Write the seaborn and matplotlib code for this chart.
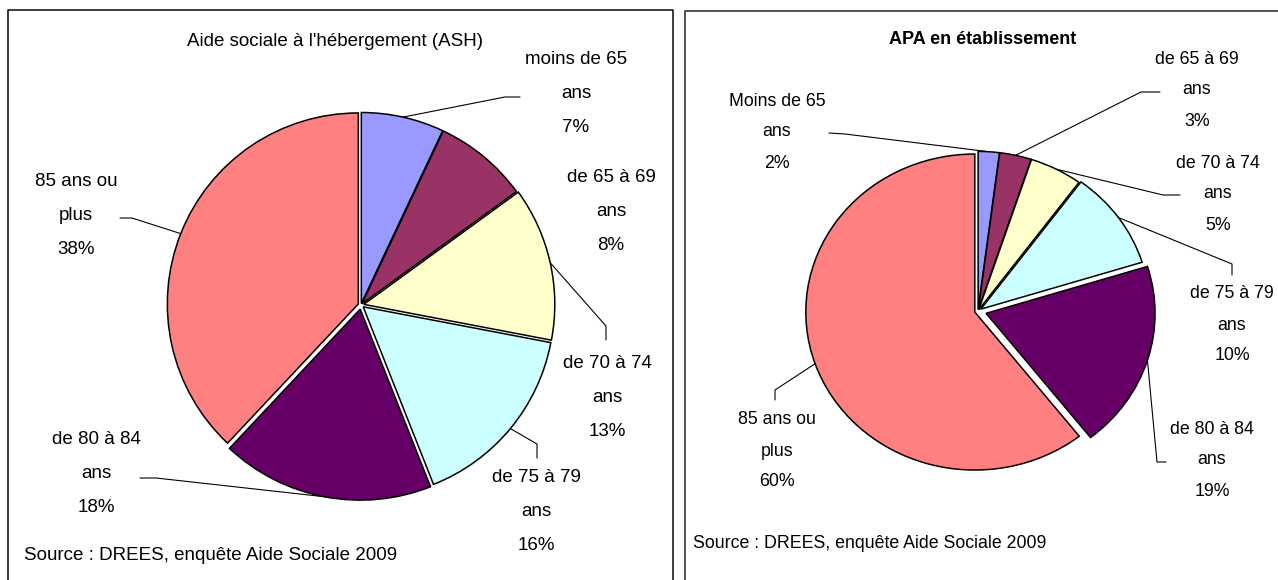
"""
Répartition des bénéficiaires par âge : ASH et APA en établissement
"""

import numpy as np
import matplotlib
matplotlib.use("Agg")
import matplotlib.pyplot as plt
import seaborn as sns

# --- données ---
ash_labels = ["moins de 65\nans", "de 65 à 69\nans", "de 70 à 74\nans",
              "de 75 à 79\nans", "de 80 à 84\nans", "85 ans ou\nplus"]
ash_values = [7, 8, 13, 16, 18, 38]

apa_labels = ["Moins de 65\nans", "de 65 à 69\nans", "de 70 à 74\nans",
              "de 75 à 79\nans", "de 80 à 84\nans", "85 ans ou\nplus"]
apa_values = [2, 3, 5, 10, 19, 60]

slice_colors = ["#9999FF", "#993366", "#FFFFCC", "#CCFFFF", "#660066", "#FF8080"]

source_text = "Source : DREES, enquête Aide Sociale 2009"

W, H = 1278, 580

sns.set_theme(style="white")
plt.rcParams["font.family"] = ["Liberation Sans", "DejaVu Sans"]
plt.rcParams["text.color"] = "black"
FONT = ["Liberation Sans", "DejaVu Sans"]

palette = sns.color_palette(slice_colors)

fig = plt.figure(figsize=(W / 100, H / 100), dpi=100)
bg = fig.add_axes([0, 0, 1, 1])
bg.set_xlim(0, W)
bg.set_ylim(H, 0)
bg.axis("off")

# cadres des deux panneaux
bg.plot([7.5, 7.5, 673, 673], [590, 10, 10, 590], color="#1a1a1a", lw=1.2)
bg.plot([685, 685, 1290], [590, 11, 11], color="#333333", lw=1.2)


def draw_pie(values, cx, cy, rx, ry, explode):
    pad = 1.2
    ax = fig.add_axes([(cx - pad * rx) / W, (H - cy - pad * ry) / H,
                       2 * pad * rx / W, 2 * pad * ry / H])
    wedges, _ = ax.pie(values, colors=palette, startangle=90, counterclock=False,
                       explode=explode,
                       wedgeprops=dict(edgecolor="black", linewidth=1.1))
    ax.set_xlim(-pad, pad)
    ax.set_ylim(-pad, pad)
    ax.set_aspect("auto")
    ax.axis("off")
    # point d'ancrage des traits de rappel (milieu de l'arc, en pixels image)
    anchors = []
    for w in wedges:
        mid = np.deg2rad((w.theta1 + w.theta2) / 2)
        px = w.center[0] + w.r * np.cos(mid)
        py = w.center[1] + w.r * np.sin(mid)
        anchors.append((cx + rx * px, cy - ry * py))
    return anchors


def draw_labels(labels, values, positions, pitch, size):
    for lab, val, (x, y) in zip(labels, values, positions):
        lines = f"{lab}\n{val}%".split("\n")
        n = len(lines)
        for i, line in enumerate(lines):
            bg.text(x, y + (i - (n - 1) / 2) * pitch, line, ha="center", va="center",
                    family=FONT, fontsize=size, color="black")


def draw_leaders(anchors, elbows):
    for a, pts in zip(anchors, elbows):
        if pts is None:
            continue
        xs = [a[0]] + [p[0] for p in pts]
        ys = [a[1]] + [p[1] for p in pts]
        bg.plot(xs, ys, color="black", lw=0.8)


# --- panneau gauche : ASH ---
ash_anchor = draw_pie(ash_values, 361, 305, 191, 191,
                      [0.008, 0.008, 0.015, 0.015, 0.022, 0.015])
ash_pos = [(576, 94), (611, 211), (607, 398), (536, 512), (96, 474), (76, 215)]
draw_labels(ash_labels, ash_values, ash_pos, 34, 13.5)
draw_leaders(ash_anchor, [
    [(505, 97), (520, 97)],
    None,
    [(606, 326), (606, 340)],
    [(537, 444), (537, 458)],
    [(156, 478), (140, 478)],
    [(132, 218), (120, 218)],
])
bg.text(335, 41, "Aide sociale à l'hébergement (ASH)", ha="center", va="center",
        family=FONT, fontsize=13.5)
bg.text(24, 555, source_text, ha="left", va="center", family=FONT, fontsize=13.5)

# --- panneau droit : APA ---
apa_anchor = draw_pie(apa_values, 978, 311, 169, 158,
                      [0.01, 0.01, 0.01, 0.02, 0.05, 0.02])
apa_pos = [(777, 132), (1197, 90), (1218, 194), (1232, 325), (1212, 460), (777, 451)]
draw_labels(apa_labels, apa_values, apa_pos, 31, 12.8)
draw_leaders(apa_anchor, [
    [(845, 134), (829, 133)],
    [(1141, 92), (1160, 92)],
    [(1163, 195), (1180, 195)],
    [(1232, 264), (1232, 275)],
    [(1157, 462), (1166, 462)],
    [(775, 390), (775, 400)],
])
bg.text(983, 40, "APA en établissement", ha="center", va="center",
        family=FONT, fontsize=13, fontweight="bold")
bg.text(693, 543, source_text, ha="left", va="center", family=FONT, fontsize=12.8)

fig.savefig("out.png", dpi=100)
plt.close(fig)
